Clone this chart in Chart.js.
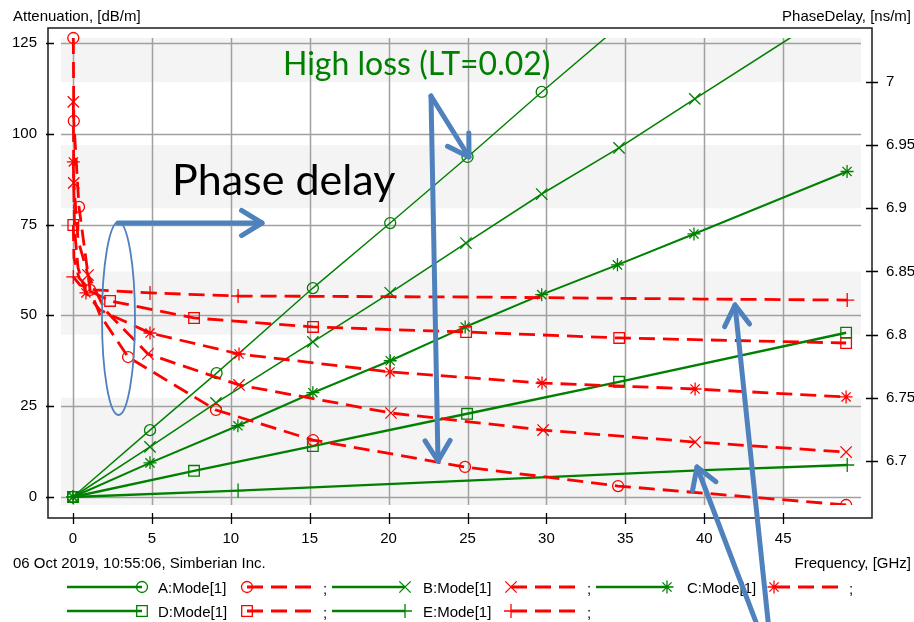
<!DOCTYPE html>
<html>
<head>
<meta charset="utf-8">
<script src="https://cdn.jsdelivr.net/npm/chart.js@4/dist/chart.umd.min.js"></script>
<style>
  html, body { margin: 0; padding: 0; background: #ffffff; }
  #plot { display: block; }
</style>
</head>
<body>
<canvas id="plot" width="914" height="622"></canvas>
<script>
// ---- Frequency axis and tick values ----
const freqTicks = [0, 5, 10, 15, 20, 25, 30, 35, 40, 45];
const attTicks = [0, 25, 50, 75, 100, 125];
const delayTicks = [6.7, 6.75, 6.8, 6.85, 6.9, 6.95, 7.0];

// ---- Attenuation, dB/m (left axis) ----
const attAFreq = [0, 0.5, 4.88, 9.1, 15.2, 20.1, 25.0, 29.7, 34.6];
const attA     = [0, 1.9, 18.4, 34.1, 57.5, 75.4, 93.6, 111.5, 129.6];
const attAMark = [1, 0, 1, 1, 1, 1, 1, 1, 0];

const attBFreq = [0, 4.88, 9.06, 15.2, 20.1, 24.9, 29.7, 34.6, 39.4, 46.5];
const attB     = [0, 13.8, 25.9, 42.7, 56.2, 69.9, 83.4, 96.1, 109.6, 129.3];
const attBMark = [1, 1, 1, 1, 1, 1, 1, 1, 1, 0];

const attCFreq = [0, 4.88, 10.45, 15.2, 20.1, 24.85, 29.7, 34.5, 39.35, 49.05];
const attC     = [0, 9.4, 19.6, 28.7, 37.5, 46.8, 55.7, 63.9, 72.4, 89.6];
const attCMark = [1, 1, 1, 1, 1, 1, 1, 1, 1, 1];

const attDFreq = [0, 7.67, 15.2, 24.97, 34.6, 48.99];
const attD     = [0, 7.2, 14.0, 22.9, 31.7, 45.2];
const attDMark = [1, 1, 1, 1, 1, 1];

const attEFreq = [0, 10.46, 25.0, 40.0, 49.06];
const attE     = [0, 1.75, 4.5, 7.4, 8.8];
const attEMark = [1, 1, 0, 0, 1];

// ---- Phase delay, ns/m (right axis) ----
const pdAFreq = [0.02, 0.05, 0.38, 1.08, 1.71, 3.49, 9.06, 15.21, 24.84, 34.54, 48.99];
const pdA     = [7.0348, 6.9691, 6.9011, 6.8354, 6.8156, 6.7823, 6.7404, 6.7166, 6.6953, 6.6802, 6.6652];
const pdAMark = [1, 1, 1, 1, 0, 1, 1, 1, 1, 1, 1];

const pdBFreq = [0.02, 0.05, 0.32, 0.95, 2.03, 4.75, 10.52, 20.15, 29.79, 39.42, 48.99];
const pdB     = [6.9842, 6.9201, 6.8749, 6.8472, 6.8195, 6.7847, 6.7602, 6.7380, 6.7245, 6.7150, 6.7071];
const pdBMark = [1, 1, 0, 1, 0, 1, 1, 1, 1, 1, 1];

const pdCFreq = [0.02, 0.1, 0.32, 0.82, 1.71, 4.88, 10.52, 20.09, 29.72, 39.42, 48.99];
const pdC     = [6.9367, 6.8829, 6.8528, 6.8330, 6.8195, 6.8013, 6.7847, 6.7705, 6.7617, 6.7570, 6.7507];
const pdCMark = [1, 0, 0, 1, 0, 1, 1, 1, 1, 1, 1];

const pdDFreq = [0.02, 0.06, 0.38, 1.2, 2.35, 7.67, 15.21, 24.91, 34.61, 48.99];
const pdD     = [6.8868, 6.8607, 6.8449, 6.8338, 6.8267, 6.8132, 6.8061, 6.8021, 6.7974, 6.7934];
const pdDMark = [1, 0, 0, 0, 1, 1, 1, 1, 1, 1];

const pdEFreq = [0.02, 0.44, 1.39, 4.88, 10.46, 25.03, 39.74, 49.06];
const pdE     = [6.8457, 6.8393, 6.8354, 6.8330, 6.8306, 6.8298, 6.8282, 6.8274];
const pdEMark = [1, 0, 0, 1, 1, 0, 0, 1];

const modeNames = ['A:Mode[1]', 'B:Mode[1]', 'C:Mode[1]', 'D:Mode[1]', 'E:Mode[1]'];

const GREEN = 'rgb(0,128,0)';
const RED = 'rgb(255,0,0)';
const BLUE = 'rgb(79,129,189)';
const FONT = '"Liberation Sans", Arial, sans-serif';

// marker shape and size for each mode (Chart.js point styles)
const markerStyle = ['circle', 'crossRot', 'star', 'rect', 'cross'];
const markerRadius = [5.5, 8, 6.5, 7.5, 7];

function zip(fs, vs) { return fs.map((f, i) => ({ x: f, y: vs[i] })); }

// clipping of the traces to the inner plotting frame
const innerClip = { left: -13, top: -10, right: -11, bottom: -13 };

function attSet(i, fs, vs, marks, width) {
  return {
    label: modeNames[i],
    data: zip(fs, vs),
    yAxisID: 'y',
    borderColor: GREEN,
    borderWidth: width,
    backgroundColor: 'rgba(0,0,0,0)',
    pointStyle: markerStyle[i],
    pointRadius: marks.map(m => m ? markerRadius[i] : 0),
    pointHoverRadius: 0,
    pointBorderColor: GREEN,
    pointBackgroundColor: 'rgba(0,0,0,0)',
    pointBorderWidth: 1.3,
    tension: 0,
    clip: innerClip
  };
}

function pdSet(i, fs, vs, marks) {
  return {
    label: ';',
    data: zip(fs, vs),
    yAxisID: 'y1',
    borderColor: RED,
    borderWidth: 2.8,
    borderDash: [16, 8],
    backgroundColor: 'rgba(0,0,0,0)',
    pointStyle: markerStyle[i],
    pointRadius: marks.map(m => m ? markerRadius[i] : 0),
    pointHoverRadius: 0,
    pointBorderColor: RED,
    pointBackgroundColor: 'rgba(0,0,0,0)',
    pointBorderWidth: 1.3,
    tension: 0,
    clip: { left: -13, top: 6, right: -11, bottom: -13 }
  };
}

const datasets = [
  pdSet(0, pdAFreq, pdA, pdAMark),
  pdSet(1, pdBFreq, pdB, pdBMark),
  pdSet(2, pdCFreq, pdC, pdCMark),
  pdSet(3, pdDFreq, pdD, pdDMark),
  pdSet(4, pdEFreq, pdE, pdEMark),
  attSet(0, attAFreq, attA, attAMark, 1.4),
  attSet(1, attBFreq, attB, attBMark, 1.6),
  attSet(2, attCFreq, attC, attCMark, 2.0),
  attSet(3, attDFreq, attD, attDMark, 2.4),
  attSet(4, attEFreq, attE, attEMark, 2.4)
];

// ---- Drawing helpers ----
function drawMarker(ctx, style, x, y, r, color) {
  ctx.save();
  ctx.strokeStyle = color;
  ctx.lineWidth = 1.3;
  ctx.beginPath();
  if (style === 'circle') {
    ctx.arc(x, y, r, 0, Math.PI * 2);
  } else if (style === 'rect') {
    const s = r * Math.SQRT1_2;
    ctx.rect(x - s, y - s, 2 * s, 2 * s);
  } else if (style === 'cross' || style === 'star') {
    ctx.moveTo(x - r, y); ctx.lineTo(x + r, y);
    ctx.moveTo(x, y - r); ctx.lineTo(x, y + r);
  }
  if (style === 'crossRot' || style === 'star') {
    const d = r * Math.SQRT1_2;
    ctx.moveTo(x - d, y - d); ctx.lineTo(x + d, y + d);
    ctx.moveTo(x - d, y + d); ctx.lineTo(x + d, y - d);
  }
  ctx.stroke();
  ctx.restore();
}

function arrowHead(ctx, x0, y0, x1, y1, len, spread) {
  const a = Math.atan2(y1 - y0, x1 - x0);
  ctx.beginPath();
  ctx.moveTo(x1 - len * Math.cos(a - spread), y1 - len * Math.sin(a - spread));
  ctx.lineTo(x1, y1);
  ctx.lineTo(x1 - len * Math.cos(a + spread), y1 - len * Math.sin(a + spread));
  ctx.stroke();
}

function arrow(ctx, x0, y0, x1, y1) {
  ctx.beginPath();
  ctx.moveTo(x0, y0);
  ctx.lineTo(x1, y1);
  ctx.stroke();
  arrowHead(ctx, x0, y0, x1, y1, 24, 0.55);
}

// background bands, grid and the framed axes
const framePlugin = {
  id: 'frame',
  beforeDraw(chart) {
    const ctx = chart.ctx;
    ctx.save();
    ctx.fillStyle = '#ffffff';
    ctx.fillRect(0, 0, chart.width, chart.height);
    ctx.restore();
  },
  beforeDatasetsDraw(chart) {
    const ctx = chart.ctx;
    const a = chart.chartArea;
    const xs = chart.scales.x, ys = chart.scales.y, ys1 = chart.scales.y1;
    const L = a.left + 13, R = a.right - 11, T = a.top + 10, B = a.bottom - 13;

    // alternating light bands following the phase-delay ticks
    const rowEdges = [T].concat(delayTicks.slice().reverse().map(v => ys1.getPixelForValue(v))).concat([B]);
    const colEdges = [L].concat(freqTicks.slice(1).map(v => xs.getPixelForValue(v))).concat([R]);
    const lastRow = rowEdges.length - 2, lastCol = colEdges.length - 2;
    ctx.save();
    ctx.fillStyle = 'rgb(244,244,244)';
    for (let r = 0; r < rowEdges.length - 1; r++) {
      for (let c = 0; c < colEdges.length - 1; c++) {
        const grey = r === lastRow ? c !== lastCol : r % 2 === 0;
        if (grey) {
          ctx.fillRect(colEdges[c], rowEdges[r], colEdges[c + 1] - colEdges[c], rowEdges[r + 1] - rowEdges[r]);
        }
      }
    }

    // grid lines
    ctx.strokeStyle = 'rgb(160,160,160)';
    ctx.lineWidth = 1.5;
    ctx.beginPath();
    freqTicks.forEach(v => {
      const px = Math.round(xs.getPixelForValue(v)) + 0.5;
      ctx.moveTo(px, T); ctx.lineTo(px, B);
    });
    attTicks.forEach(v => {
      const py = Math.round(ys.getPixelForValue(v)) + 0.5;
      ctx.moveTo(L, py); ctx.lineTo(R, py);
    });
    ctx.stroke();

    // frame
    ctx.strokeStyle = 'rgb(40,40,40)';
    ctx.lineWidth = 1.6;
    ctx.strokeRect(a.left, a.top, a.right - a.left, a.bottom - a.top);

    // tick marks across the frame
    ctx.strokeStyle = '#000000';
    ctx.lineWidth = 1.3;
    ctx.beginPath();
    freqTicks.forEach(v => {
      const px = Math.round(xs.getPixelForValue(v)) + 0.5;
      ctx.moveTo(px, a.bottom - 5); ctx.lineTo(px, a.bottom + 6);
    });
    attTicks.forEach(v => {
      const py = Math.round(ys.getPixelForValue(v)) + 0.5;
      ctx.moveTo(a.left - 2, py); ctx.lineTo(a.left + 6, py);
    });
    delayTicks.forEach(v => {
      const py = Math.round(ys1.getPixelForValue(v)) + 0.5;
      ctx.moveTo(a.right - 6, py); ctx.lineTo(a.right + 6, py);
    });
    ctx.stroke();
    ctx.restore();
  },
  afterDraw(chart) {
    const ctx = chart.ctx;
    ctx.save();

    // axis titles and footer
    ctx.fillStyle = '#000000';
    ctx.font = '15px ' + FONT;
    ctx.textBaseline = 'alphabetic';
    ctx.textAlign = 'left';
    ctx.fillText('Attenuation, [dB/m]', 13, 21);
    ctx.fillText('06 Oct 2019, 10:55:06, Simberian Inc.', 13, 568);
    ctx.textAlign = 'right';
    ctx.fillText('PhaseDelay, [ns/m]', 911, 21);
    ctx.fillText('Frequency, [GHz]', 911, 568);

    // legend: two rows of attenuation / phase-delay pairs
    const cols = [
      { g0: 67, g1: 142, tx: 158, r0: 247, r1: 313, sc: 323 },
      { g0: 332, g1: 405, tx: 423, r0: 511, r1: 576, sc: 587 },
      { g0: 596, g1: 667, tx: 687, r0: 774, r1: 842, sc: 849 }
    ];
    const rows = [587, 611];
    modeNames.forEach((name, i) => {
      const c = cols[i % 3], y = rows[Math.floor(i / 3)];
      ctx.strokeStyle = GREEN;
      ctx.lineWidth = 2.6;
      ctx.setLineDash([]);
      ctx.beginPath(); ctx.moveTo(c.g0, y); ctx.lineTo(c.g1, y); ctx.stroke();
      drawMarker(ctx, markerStyle[i], c.g1, y, markerRadius[i], GREEN);
      ctx.fillStyle = '#000000';
      ctx.textAlign = 'left';
      ctx.textBaseline = 'middle';
      ctx.fillText(name, c.tx, y + 2);
      ctx.strokeStyle = RED;
      ctx.lineWidth = 2.8;
      ctx.setLineDash([16, 8]);
      ctx.beginPath(); ctx.moveTo(c.r0, y); ctx.lineTo(c.r1, y); ctx.stroke();
      ctx.setLineDash([]);
      drawMarker(ctx, markerStyle[i], c.r0, y, markerRadius[i], RED);
      ctx.fillStyle = '#000000';
      ctx.fillText(';', c.sc, y + 3);
    });

    // annotations
    ctx.textBaseline = 'alphabetic';
    ctx.textAlign = 'left';
    ctx.fillStyle = GREEN;
    ctx.font = '32px Lato, "Open Sans", sans-serif';
    ctx.fillText('High loss (LT=0.02)', 283, 75);
    ctx.fillStyle = '#000000';
    ctx.font = '43px Lato, "Open Sans", sans-serif';
    ctx.fillText('Phase delay', 172, 195);

    ctx.strokeStyle = BLUE;
    ctx.lineCap = 'round';
    ctx.lineJoin = 'round';
    ctx.lineWidth = 1.8;
    ctx.beginPath();
    ctx.ellipse(118.5, 318.5, 16.5, 96.5, 0, 0, Math.PI * 2);
    ctx.stroke();

    ctx.lineWidth = 5;
    arrow(ctx, 118, 223, 262, 223);
    arrow(ctx, 431, 96, 469, 157);
    arrow(ctx, 431, 96, 438, 461);
    arrow(ctx, 759, 630, 697, 467);
    arrow(ctx, 769, 630, 735, 305);
    ctx.restore();
  }
};

const tickFont = { family: FONT, size: 15 };

new Chart(document.getElementById('plot'), {
  type: 'line',
  data: { datasets },
  plugins: [framePlugin],
  options: {
    responsive: false,
    animation: false,
    devicePixelRatio: 1,
    layout: { padding: { top: 28, left: 0, right: 0, bottom: 0 } },
    plugins: { legend: { display: false }, tooltip: { enabled: false } },
    events: [],
    scales: {
      x: {
        type: 'linear',
        min: -1.584,
        max: 50.63,
        afterBuildTicks: s => { s.ticks = freqTicks.map(v => ({ value: v })); },
        afterFit: s => { s.height = 104; },
        grid: { display: false, drawTicks: false },
        border: { display: false },
        ticks: { color: '#000000', font: tickFont, padding: 12, maxRotation: 0, autoSkip: false }
      },
      y: {
        type: 'linear',
        position: 'left',
        min: -5.79,
        max: 129.1,
        afterBuildTicks: s => { s.ticks = attTicks.map(v => ({ value: v })); },
        afterFit: s => { s.width = 48; },
        grid: { display: false, drawTicks: false },
        border: { display: false },
        ticks: { color: '#000000', font: tickFont, padding: 11, autoSkip: false }
      },
      y1: {
        type: 'linear',
        position: 'right',
        min: 6.6549,
        max: 7.0427,
        afterBuildTicks: s => { s.ticks = delayTicks.map(v => ({ value: v })); },
        afterFit: s => { s.width = 42; },
        grid: { display: false, drawTicks: false },
        border: { display: false },
        ticks: {
          color: '#000000', font: tickFont, padding: 14, autoSkip: false,
          callback: v => String(Number(v.toFixed(2)))
        }
      }
    }
  }
});
</script>
</body>
</html>
